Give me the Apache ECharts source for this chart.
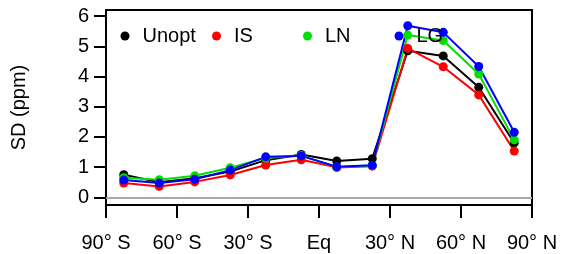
<!DOCTYPE html>
<html><head><meta charset="utf-8">
<script src="https://cdn.jsdelivr.net/npm/echarts@6/dist/echarts.min.js"></script>
<style>html,body{margin:0;padding:0;background:#fff}#c{width:562px;height:254px}</style>
</head><body><div id="c"></div>
<script>
const latitudes = [-82.5,-67.5,-52.5,-37.5,-22.5,-7.5,7.5,22.5,37.5,52.5,67.5,82.5];
const unopt = [0.75,0.50,0.63,0.85,1.23,1.42,1.20,1.28,4.85,4.68,3.64,1.80];
const isVals = [0.47,0.36,0.51,0.74,1.07,1.24,0.99,1.03,4.93,4.32,3.39,1.53];
const lnVals = [0.65,0.58,0.71,0.98,1.30,1.38,1.00,1.05,5.37,5.19,4.08,1.90];
const lgVals = [0.57,0.47,0.60,0.90,1.34,1.37,1.01,1.06,5.68,5.46,4.33,2.15];
const xTickValues = [-90,-60,-30,0,30,60,90];
const xTickLabels = ['90° S','60° S','30° S','Eq','30° N','60° N','90° N'];
const yTickValues = [0,1,2,3,4,5,6];
const seriesNames = ['Unopt','IS','LN','LG'];
const seriesColors = ['#000000','#ff0000','#00e000','#0000ff'];
const seriesData = [unopt,isVals,lnVals,lgVals];
const legendLeft = [120.5,212,303,394.5];

const FONT = 'Liberation Sans, Arial, sans-serif';
const chart = echarts.init(document.getElementById('c'), null, {renderer:'canvas'});
const series = seriesNames.map((n,i)=>({
  name:n, type:'line', data: latitudes.map((x,j)=>[x, seriesData[i][j]]),
  symbol:'circle', symbolSize:9, color:seriesColors[i],
  lineStyle:{width:2,color:seriesColors[i]}, itemStyle:{color:seriesColors[i]},
  z: 2, zlevel:0, animation:false,
  markLine: i===0 ? {silent:true, symbol:['none','none'], label:{show:false},
    lineStyle:{color:'#aaaaaa',width:2,type:'solid'}, data:[{yAxis:0}], animation:false} : undefined
}));
chart.setOption({
  animation:false,
  textStyle:{fontFamily:FONT},
  grid:{left:106,right:30,top:10,bottom:49,show:true,borderColor:'#000',borderWidth:2,backgroundColor:'transparent'},
  legend: seriesNames.map((n,i)=>({
    data:[n], left:legendLeft[i], top:26, icon:'circle', itemWidth:9, itemHeight:9, padding:0, z:20,
    textStyle:{fontSize:20,color:'#000',fontFamily:FONT,padding:[0,0,0,8]}
  })),
  xAxis:{type:'value',min:-90,max:90,interval:30,
    axisLine:{show:true,onZero:false,lineStyle:{color:'#000',width:2}},
    axisTick:{show:true,inside:false,length:13,lineStyle:{color:'#000',width:2}},
    splitLine:{show:false},
    axisLabel:{margin:28,fontSize:20,color:'#000',fontFamily:FONT,showMinLabel:true,showMaxLabel:true,
      formatter:v=>{const k=xTickValues.indexOf(v);return k>=0?xTickLabels[k]:'';}}
  },
  yAxis:{type:'value',min:-0.255,max:6.2,
    name:'SD (ppm)',nameLocation:'middle',nameGap:77,nameRotate:90,
    nameTextStyle:{fontSize:20,color:'#000',fontFamily:FONT},
    axisLine:{show:true,onZero:false,lineStyle:{color:'#000',width:2}},
    axisTick:{show:true,length:12,lineStyle:{color:'#000',width:2},customValues:yTickValues},
    splitLine:{show:false},
    axisLabel:{margin:17,fontSize:20,color:'#000',fontFamily:FONT,customValues:yTickValues}
  },
  series: series
});
</script></body></html>
